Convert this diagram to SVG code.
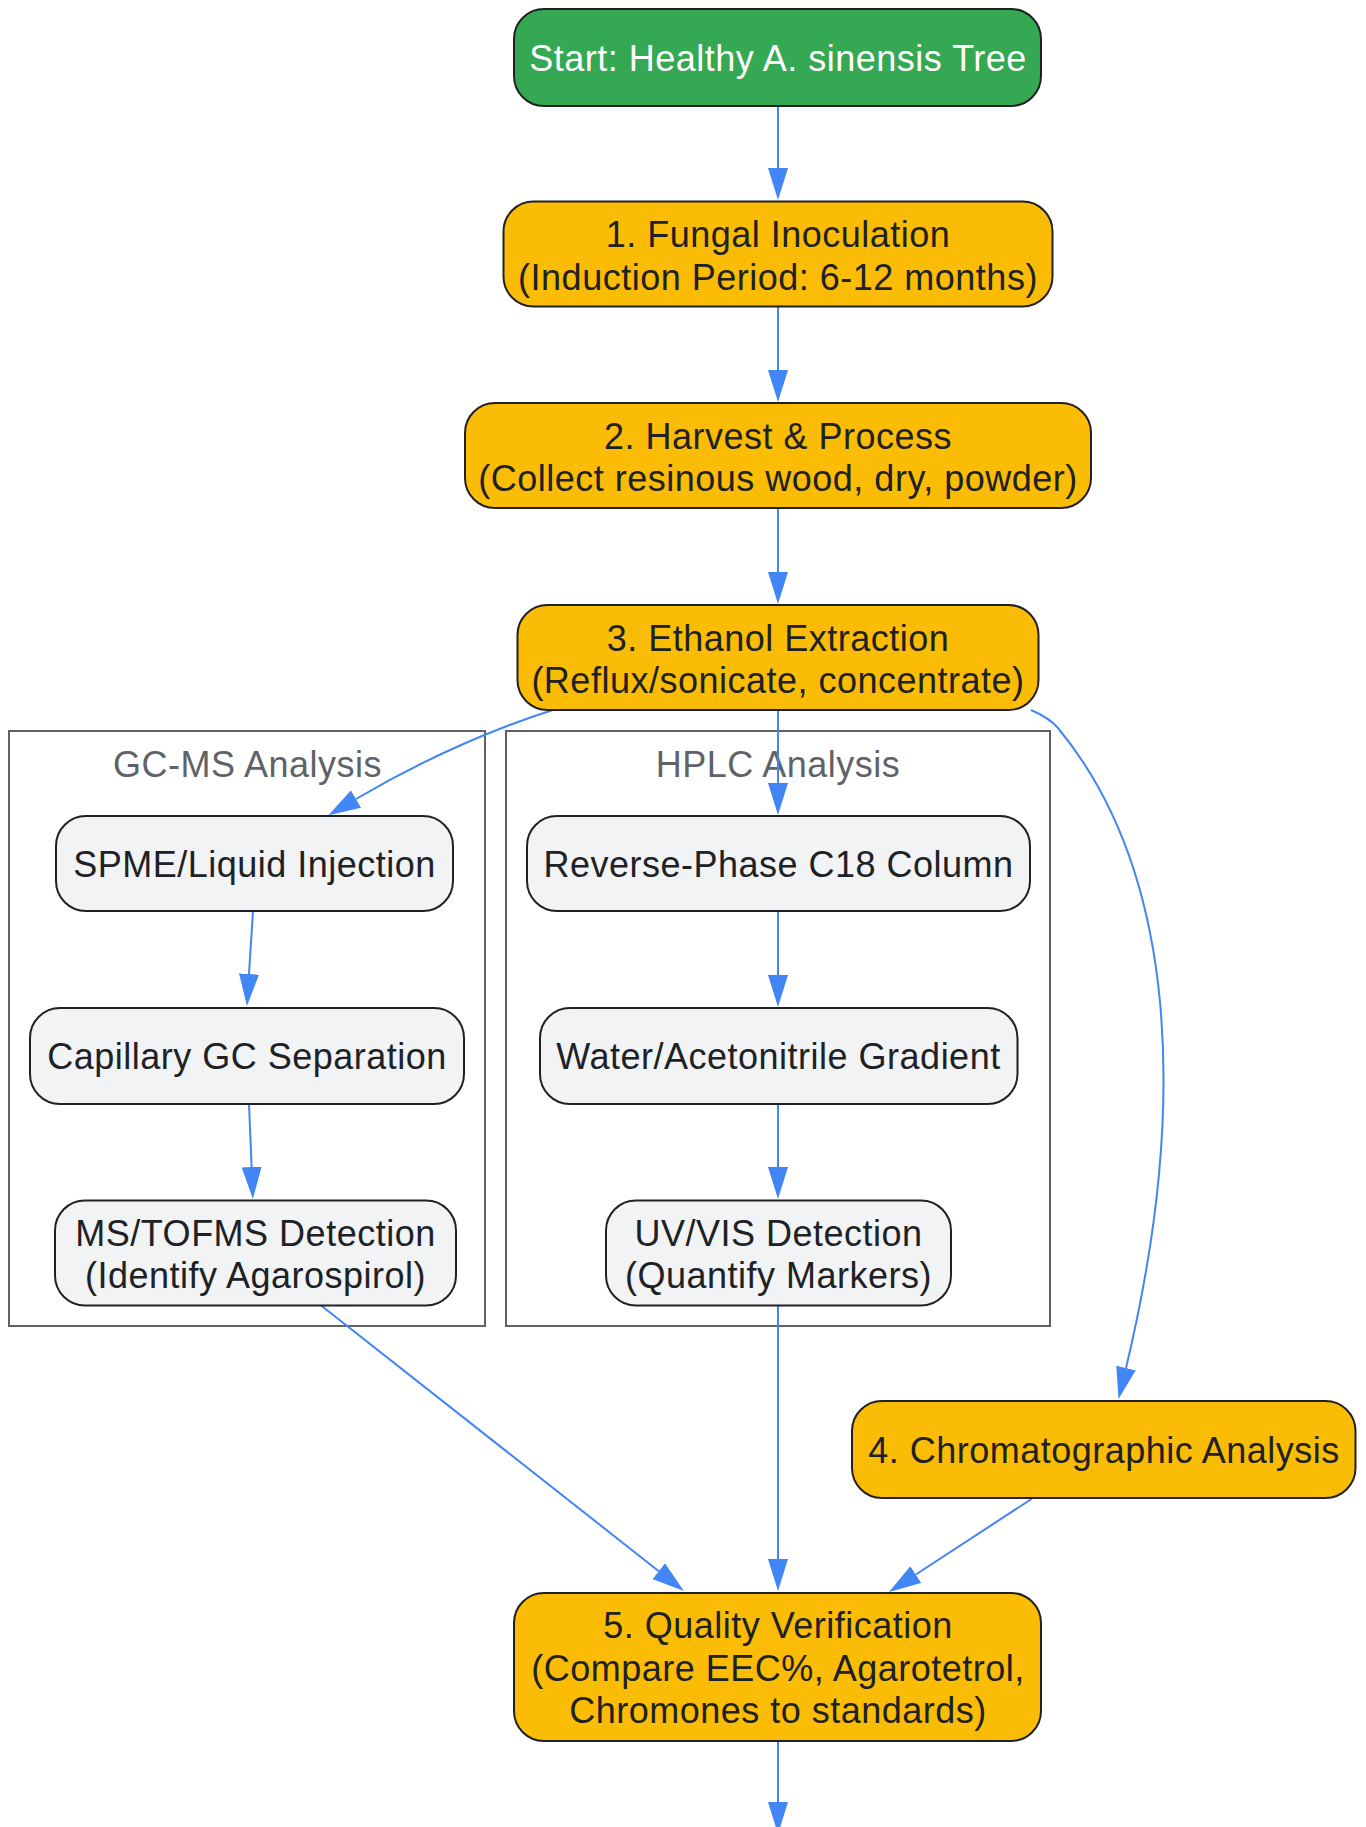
<svg xmlns="http://www.w3.org/2000/svg" width="1366" height="1827" viewBox="0 0 1366 1827">
<style>
  .t { font-family: "Liberation Sans", Arial, sans-serif; font-size: 36px; letter-spacing: 0.5px; text-anchor: middle; fill: #202124; }
  .tw { fill: #ffffff; }
  .cl { font-family: "Liberation Sans", Arial, sans-serif; font-size: 36px; letter-spacing: 0.5px; text-anchor: middle; fill: #5f6368; }
  .green { fill: #34a853; stroke: #202124; stroke-width: 2; }
  .orange { fill: #fbbc05; stroke: #202124; stroke-width: 2; }
  .gray { fill: #f1f3f4; stroke: #202124; stroke-width: 2; }
  .cluster { fill: none; stroke: #5f6368; stroke-width: 2; }
  .e { fill: none; stroke: #4285f4; stroke-width: 2; marker-end: url(#arr); }
</style>
<defs>
  <marker id="arr" markerUnits="userSpaceOnUse" markerWidth="32" markerHeight="20" viewBox="0 0 32 20" refX="0" refY="10" orient="auto">
    <path d="M0,0 L32,10 L0,20 z" fill="#4285f4"/>
  </marker>
</defs>
<rect width="1366" height="1827" fill="#ffffff"/>

<g id="cluster-gcms">
  <rect class="cluster" x="9" y="731" width="476" height="595"/>
  <text class="cl" x="247.5" y="776.5">GC-MS Analysis</text>
</g>
<g id="cluster-hplc">
  <rect class="cluster" x="506" y="731" width="544" height="595"/>
  <text class="cl" x="778" y="776.5">HPLC Analysis</text>
</g>

<g id="connectors">
  <path class="e" d="M778,106 L778,168"/>
  <path class="e" d="M778,307 L778,370"/>
  <path class="e" d="M778,508 L778,572"/>
  <path class="e" d="M778,710 L778,783"/>
  <path class="e" d="M778,911 L778,975"/>
  <path class="e" d="M778,1104 L778,1167"/>
  <path class="e" d="M778,1305 L778,1559"/>
  <path class="e" d="M778,1741 L778,1802"/>
  <path class="e" d="M553,710 C505,725 432,754 356,799"/>
  <path class="e" d="M253,911 L249,974"/>
  <path class="e" d="M249,1104 L251.6,1167"/>
  <path class="e" d="M1031,710 C1045,716 1052,721 1058,728 C1175,870 1190,1100 1126,1368"/>
  <path class="e" d="M320.5,1305 L658.8,1571.2"/>
  <path class="e" d="M1031.5,1499 L915.8,1574.5"/>
</g>

<g id="start">
  <rect class="green" x="514" y="9" width="527" height="97" rx="30" ry="30"/>
  <text class="t tw" x="778" y="71">Start: Healthy A. sinensis Tree</text>
</g>
<g id="step1">
  <rect class="orange" x="503.5" y="201.5" width="549" height="105" rx="30" ry="30"/>
  <text class="t" x="778" y="247">1. Fungal Inoculation</text>
  <text class="t" x="778" y="289.5">(Induction Period: 6-12 months)</text>
</g>
<g id="step2">
  <rect class="orange" x="465" y="403" width="626" height="105" rx="30" ry="30"/>
  <text class="t" x="778" y="448.5">2. Harvest &amp; Process</text>
  <text class="t" x="778" y="491">(Collect resinous wood, dry, powder)</text>
</g>
<g id="step3">
  <rect class="orange" x="517.5" y="605" width="521" height="105" rx="30" ry="30"/>
  <text class="t" x="778" y="650.5">3. Ethanol Extraction</text>
  <text class="t" x="778" y="693">(Reflux/sonicate, concentrate)</text>
</g>
<g id="spme">
  <rect class="gray" x="56" y="816" width="397" height="95" rx="30" ry="30"/>
  <text class="t" x="254.5" y="876.5">SPME/Liquid Injection</text>
</g>
<g id="capillary">
  <rect class="gray" x="30" y="1008" width="434" height="96" rx="30" ry="30"/>
  <text class="t" x="247" y="1069">Capillary GC Separation</text>
</g>
<g id="ms">
  <rect class="gray" x="55" y="1200.5" width="401" height="105" rx="30" ry="30"/>
  <text class="t" x="255.5" y="1245.5">MS/TOFMS Detection</text>
  <text class="t" x="255.5" y="1288">(Identify Agarospirol)</text>
</g>
<g id="rp">
  <rect class="gray" x="527" y="816" width="503" height="95" rx="30" ry="30"/>
  <text class="t" x="778.5" y="876.5">Reverse-Phase C18 Column</text>
</g>
<g id="water">
  <rect class="gray" x="540" y="1008" width="477.5" height="96" rx="30" ry="30"/>
  <text class="t" x="778.5" y="1069">Water/Acetonitrile Gradient</text>
</g>
<g id="uv">
  <rect class="gray" x="606" y="1200.5" width="345" height="105" rx="30" ry="30"/>
  <text class="t" x="778.5" y="1245.5">UV/VIS Detection</text>
  <text class="t" x="778.5" y="1288">(Quantify Markers)</text>
</g>
<g id="step4">
  <rect class="orange" x="852" y="1401" width="503.5" height="97" rx="30" ry="30"/>
  <text class="t" x="1104" y="1462.5">4. Chromatographic Analysis</text>
</g>
<g id="step5">
  <rect class="orange" x="514" y="1593" width="527" height="148" rx="30" ry="30"/>
  <text class="t" x="778" y="1638">5. Quality Verification</text>
  <text class="t" x="778" y="1680.5">(Compare EEC%, Agarotetrol,</text>
  <text class="t" x="778" y="1723">Chromones to standards)</text>
</g>
</svg>
